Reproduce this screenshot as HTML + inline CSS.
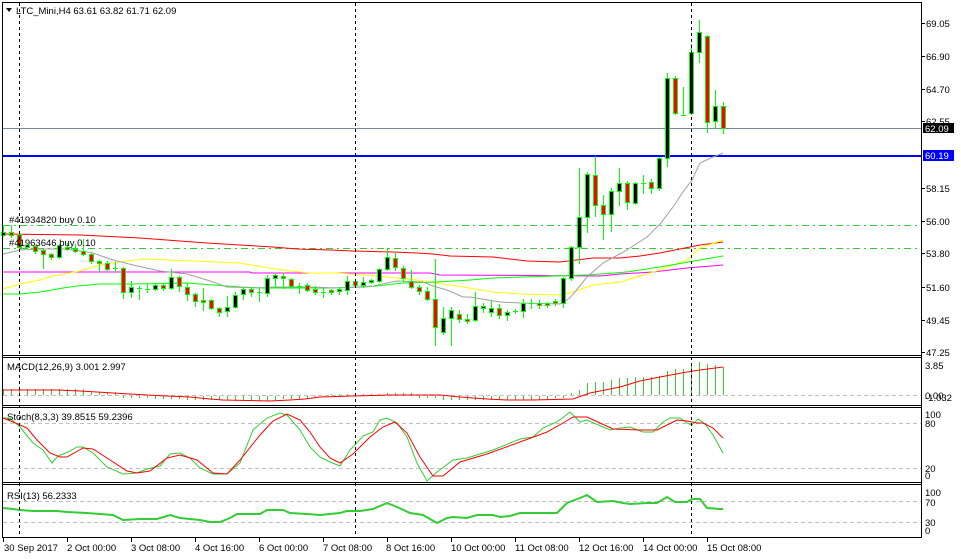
<!DOCTYPE html>
<html><head><meta charset="utf-8"><style>
html,body{margin:0;padding:0;background:#fff;}
svg{display:block;}
text{font-family:"Liberation Sans",sans-serif;font-size:9.5px;fill:#000;}
</style></head><body>
<svg width="961" height="559" viewBox="0 0 961 559" xmlns="http://www.w3.org/2000/svg">
<rect width="961" height="559" fill="#fff"/>

<!-- horizontal trade lines -->
<path d="M3 225.5H921M3 248.5H921" stroke="#32cd32" stroke-width="1" stroke-dasharray="7,4,2,4" fill="none"/>
<path d="M3 128.5H921" stroke="#778899" stroke-width="1"/>
<rect x="3" y="155" width="918" height="2" fill="#0000ff"/>

<!-- MAs -->
<g fill="none" stroke-width="1">
<polyline stroke="#ff0000" points="3,234 80,235 140,238 180,241 207,243 240,245 273,247 297,249 330,250 353,251 393,252 417,253 433,254 450,256 493,257 527,261 560,262 593,258 620,258 640,256 660,253 680,249 700,245 723,242"/>
<polyline stroke="#ff00ff" points="3,272 250,272 252,273 430,273 440,275 600,276 620,274 653,272 687,268 723,265"/>
<polyline stroke="#ffff00" points="3,289 20,284 40,280 53,276 80,271 100,265 127,261 143,259 193,261 240,263 263,267 290,271 310,273 337,273 377,276 397,278 417,280 437,283 463,287 493,292 520,294 560,295 570,293 593,285 620,282 660,270 687,260 700,248 723,240"/>
<polyline stroke="#00ff00" points="3,294 20,294 40,292 63,288 77,286 100,284 133,284 187,283 240,287 263,288 330,288 363,287 377,286 403,283 437,282 470,280 493,278 587,275 627,272 660,267 700,260 723,256"/>
<polyline stroke="#a0a0a0" points="3,254 20,250 40,249 67,249 93,253 113,260 133,265 160,271 187,274 207,280 227,287 257,288 273,287 310,287 337,288 357,287 373,286 387,283 397,281 423,282 433,286 447,290 463,297 470,297 500,302 520,303 560,304 570,298 587,277 603,263 627,250 647,237 660,224 673,207 683,192 692,180 700,163 713,157 723,153"/>
</g>

<!-- wicks -->
<path stroke="#00ff00" stroke-width="1" fill="none" d="M3.5 225V237M11.5 225V238M19.5 233V251M27.5 244V249M35.5 245V254M43.5 249V269M51.5 253V260M59.5 244V259M67.5 243V251M75.5 244V253M83.5 239V256M91.5 253V264M99.5 260V272M107.5 261V271M115.5 262V272M123.5 267V299M131.5 281V298M139.5 286V300M147.5 284V293M155.5 283V291M163.5 284V291M171.5 269V290M179.5 276V292M187.5 283V301M195.5 293V307M203.5 288V311M211.5 299V310M219.5 307V317M227.5 296V317M235.5 292V309M243.5 288V300M251.5 287V297M259.5 287V302M267.5 275V297M275.5 274V288M283.5 273V289M291.5 278V289M299.5 283V294M307.5 283V292M315.5 286V295M323.5 288V298M331.5 289V295M339.5 287V295M347.5 276V295M355.5 280V287M363.5 277V288M371.5 279V284M379.5 268V283M387.5 248V271M395.5 253V271M403.5 266V282M411.5 270V289M419.5 285V295M427.5 287V301M435.5 259V346M443.5 307V335M451.5 307V346M459.5 310V323M467.5 314V324M475.5 292V322M483.5 303V313M491.5 300V317M499.5 304V319M507.5 310V321M515.5 309V314M523.5 299V318M531.5 299V309M539.5 300V309M547.5 302V308M555.5 299V306M563.5 277V308M571.5 246V281M579.5 168V264M587.5 172V233M595.5 156V217M603.5 195V240M611.5 188V232M619.5 168V206M627.5 181V210M635.5 182V205M643.5 175V194M651.5 179V194M659.5 157V191M667.5 73V167M675.5 76V115M683.5 87V116M691.5 44V115M699.5 20V63M707.5 35V133M715.5 90V129M723.5 102V134"/>

<!-- bull bodies (black) -->
<g fill="#000" stroke="#00ff00" stroke-width="1">
<rect x="1.5" y="232.5" width="4" height="3"/>
<rect x="25.5" y="245.5" width="4" height="2"/>
<rect x="57.5" y="245.5" width="4" height="12"/>
<rect x="129.5" y="287.5" width="4" height="5"/>
<rect x="153.5" y="285.5" width="4" height="4"/>
<rect x="169.5" y="277.5" width="4" height="11"/>
<rect x="225.5" y="307.5" width="4" height="4"/>
<rect x="233.5" y="295.5" width="4" height="12"/>
<rect x="241.5" y="289.5" width="4" height="5"/>
<rect x="265.5" y="278.5" width="4" height="15"/>
<rect x="273.5" y="275.5" width="4" height="3"/>
<rect x="337.5" y="289.5" width="4" height="2"/>
<rect x="345.5" y="281.5" width="4" height="9"/>
<rect x="361.5" y="282.5" width="4" height="3"/>
<rect x="369.5" y="280.5" width="4" height="2"/>
<rect x="377.5" y="269.5" width="4" height="12"/>
<rect x="385.5" y="257.5" width="4" height="12"/>
<rect x="441.5" y="318.5" width="4" height="14"/>
<rect x="449.5" y="310.5" width="4" height="8"/>
<rect x="473.5" y="306.5" width="4" height="14"/>
<rect x="481.5" y="306.5" width="4" height="2"/>
<rect x="489.5" y="308.5" width="4" height="4"/>
<rect x="505.5" y="312.5" width="4" height="3"/>
<rect x="521.5" y="303.5" width="4" height="8"/>
<rect x="561.5" y="278.5" width="4" height="25"/>
<rect x="569.5" y="247.5" width="4" height="31"/>
<rect x="577.5" y="217.5" width="4" height="30"/>
<rect x="585.5" y="174.5" width="4" height="43"/>
<rect x="609.5" y="191.5" width="4" height="23"/>
<rect x="617.5" y="183.5" width="4" height="8"/>
<rect x="633.5" y="183.5" width="4" height="20"/>
<rect x="657.5" y="158.5" width="4" height="30"/>
<rect x="665.5" y="78.5" width="4" height="80"/>
<rect x="689.5" y="52.5" width="4" height="61"/>
<rect x="697.5" y="32.5" width="4" height="20"/>
<rect x="713.5" y="106.5" width="4" height="15"/>
</g>
<!-- bear bodies (red) -->
<g fill="#ff0000" stroke="#00ff00" stroke-width="1">
<rect x="9.5" y="232.5" width="4" height="3"/>
<rect x="17.5" y="234.5" width="4" height="13"/>
<rect x="33.5" y="246.5" width="4" height="5"/>
<rect x="41.5" y="250.5" width="4" height="4"/>
<rect x="49.5" y="254.5" width="4" height="3"/>
<rect x="65.5" y="247.5" width="4" height="2"/>
<rect x="73.5" y="249.5" width="4" height="2"/>
<rect x="81.5" y="251.5" width="4" height="3"/>
<rect x="89.5" y="254.5" width="4" height="7"/>
<rect x="97.5" y="261.5" width="4" height="2"/>
<rect x="105.5" y="263.5" width="4" height="6"/>
<rect x="121.5" y="268.5" width="4" height="24"/>
<rect x="161.5" y="285.5" width="4" height="3"/>
<rect x="177.5" y="277.5" width="4" height="9"/>
<rect x="185.5" y="287.5" width="4" height="7"/>
<rect x="193.5" y="294.5" width="4" height="7"/>
<rect x="201.5" y="300.5" width="4" height="2"/>
<rect x="209.5" y="300.5" width="4" height="8"/>
<rect x="217.5" y="308.5" width="4" height="4"/>
<rect x="249.5" y="289.5" width="4" height="3"/>
<rect x="281.5" y="276.5" width="4" height="2"/>
<rect x="289.5" y="279.5" width="4" height="7"/>
<rect x="305.5" y="285.5" width="4" height="5"/>
<rect x="313.5" y="289.5" width="4" height="3"/>
<rect x="329.5" y="290.5" width="4" height="2"/>
<rect x="353.5" y="281.5" width="4" height="4"/>
<rect x="393.5" y="258.5" width="4" height="9"/>
<rect x="401.5" y="268.5" width="4" height="10"/>
<rect x="409.5" y="281.5" width="4" height="6"/>
<rect x="417.5" y="287.5" width="4" height="4"/>
<rect x="425.5" y="291.5" width="4" height="8"/>
<rect x="433.5" y="299.5" width="4" height="28"/>
<rect x="457.5" y="314.5" width="4" height="5"/>
<rect x="465.5" y="319.5" width="4" height="2"/>
<rect x="497.5" y="308.5" width="4" height="7"/>
<rect x="537.5" y="303.5" width="4" height="2"/>
<rect x="545.5" y="303.5" width="4" height="2"/>
<rect x="553.5" y="301.5" width="4" height="2"/>
<rect x="593.5" y="175.5" width="4" height="30"/>
<rect x="601.5" y="205.5" width="4" height="9"/>
<rect x="625.5" y="183.5" width="4" height="19"/>
<rect x="649.5" y="182.5" width="4" height="6"/>
<rect x="673.5" y="78.5" width="4" height="35"/>
<rect x="705.5" y="36.5" width="4" height="86"/>
<rect x="721.5" y="106.5" width="4" height="22"/>
</g>
<!-- doji -->
<path stroke="#00ff00" stroke-width="1" fill="none" d="M113 268.5h5M137 288.5h5M145 289.5h5M257 292.5h5M297 286.5h5M321 292.5h5M513 311.5h5M529 303.5h5M641 183.5h5M681 115.5h5"/>

<!-- trade labels -->
<text x="9" y="223">#41934820 buy 0.10</text>
<text x="9" y="246">#41963646 buy 0.10</text>

<!-- title -->
<polygon points="6,8 12,8 9,12" fill="#000"/>
<text x="16" y="14">LTC_Mini,H4  63.61 63.82 61.71 62.09</text>

<!-- MACD panel -->
<path stroke="#c0c0c0" stroke-width="1" stroke-dasharray="4,3" d="M3 395.5H921M3 423.5H921M3 468.5H921M3 501.5H921M3 522.5H921" fill="none"/>
<path stroke="#32cd32" stroke-width="1" fill="none" d="M3.5 395V389M11.5 395V389M19.5 395V389M27.5 395V389M35.5 395V389M43.5 395V389M51.5 395V389M59.5 395V389M67.5 395V389M75.5 395V389M83.5 395V389M91.5 395V392M99.5 395V392M107.5 395V392M115.5 395V392M123.5 396V398M131.5 396V398M139.5 396V398M147.5 396V398M155.5 396V399M163.5 396V399M171.5 396V399M179.5 396V399M187.5 396V400M195.5 396V400M203.5 396V400M211.5 396V400M219.5 396V400M227.5 396V400M235.5 396V401M243.5 396V401M251.5 396V401M259.5 396V401M267.5 396V401M275.5 396V401M283.5 396V399M291.5 396V399M299.5 396V399M307.5 396V399M315.5 396V397M323.5 396V397M331.5 395V394M339.5 395V394M347.5 395V394M355.5 395V394M363.5 395V394M371.5 395V394M379.5 395V394M387.5 395V393M395.5 395V393M403.5 395V393M411.5 395V393M419.5 396V398M427.5 396V398M435.5 396V398M443.5 396V400M451.5 396V400M459.5 396V400M467.5 396V400M475.5 396V400M483.5 396V400M491.5 396V400M499.5 396V400M507.5 396V400M515.5 396V400M523.5 396V400M531.5 396V400M539.5 396V400M547.5 396V400M555.5 396V398M563.5 396V398M571.5 395V393M579.5 395V390M587.5 395V383M595.5 395V382M603.5 395V382M611.5 395V380M619.5 395V378M627.5 395V378M635.5 395V377M643.5 395V377M651.5 395V377M659.5 395V376M667.5 395V371M675.5 395V369M683.5 395V369M691.5 395V365M699.5 395V362M707.5 395V364M715.5 395V365M723.5 395V367"/>
<polyline fill="none" stroke="#ff0000" stroke-width="1" points="3,390 57,390 80,391 97,392 113,393 130,394 147,395 167,396 190,397 210,399 223,400 270,401 290,400 305,399 320,397 352,396 390,395 440,395 460,397 487,399 507,400 533,400 573,399 590,393 610,389 620,387 640,381 660,377 687,372 700,370 723,367"/>
<text x="7" y="370">MACD(12,26,9) 3.001 2.997</text>

<!-- Stoch -->
<polyline fill="none" stroke="#32cd32" stroke-width="1" points="3,418 10,418 20,427 33,443 43,450 52,463 58,456 68,452 77,447 83,447 93,453 107,467 123,474 137,473 147,469 160,466 170,454 180,453 190,458 200,468 213,474 227,474 240,463 253,430 267,418 280,413 287,415 300,430 310,447 320,457 330,462 340,466 350,450 363,436 373,432 380,420 387,418 397,423 407,437 417,463 427,481 437,472 453,460 467,458 493,450 520,439 533,437 543,428 557,422 570,412 580,422 587,420 610,430 620,428 630,427 643,432 653,432 663,422 670,418 680,418 687,423 692,425 698,419 705,424 713,435 723,453"/>
<polyline fill="none" stroke="#ff0000" stroke-width="1" points="3,418 13,422 27,428 37,440 50,453 60,457 67,457 83,448 93,449 107,458 127,471 137,473 150,471 167,458 180,455 197,460 213,473 227,474 240,460 260,435 273,421 287,414 300,420 310,432 320,447 330,458 340,463 353,454 370,437 383,427 395,422 407,433 420,457 433,476 443,476 460,462 487,454 520,442 547,432 563,423 573,417 587,417 600,423 613,429 640,430 657,430 667,425 677,420 687,421 697,423 703,423 713,428 723,438"/>
<text x="7" y="420">Stoch(8,3,3) 39.8515 59.2396</text>

<!-- RSI -->
<polyline fill="none" stroke="#32cd32" stroke-width="2" points="3,508 13,509 20,510 33,511 57,511 67,512 87,513 100,514 113,515 123,520 140,519 157,519 170,515 180,518 190,519 200,520 210,522 220,522 230,518 237,514 260,514 267,510 283,510 290,513 307,514 320,515 340,513 347,511 360,511 373,509 387,503 397,507 410,513 423,515 437,523 447,518 453,517 467,518 477,515 493,515 500,517 510,516 520,513 537,513 557,513 567,503 580,498 587,495 597,502 613,501 623,503 630,504 647,503 657,503 667,497 675,502 687,502 692,499 700,499 707,508 720,509 723,509"/>
<text x="7" y="499">RSI(13) 56.2333</text>

<!-- vertical dashed separators -->
<path stroke="#000" stroke-width="1" stroke-dasharray="3,3" d="M19.5 3V537M355.5 3V537M691.5 3V537" fill="none"/>

<!-- frame -->
<g stroke="#000" stroke-width="1" fill="none">
<path d="M2 2.5H921.5M2.5 2V538M921.5 2V538M2 355.5H922M2 357.5H922M2 405.5H922M2 407.5H922M2 482.5H922M2 484.5H922M2 537.5H922"/>
<path d="M922 23.5h3M922 56.5h3M922 89.5h3M922 121.5h3M922 188.5h3M922 221.5h3M922 253.5h3M922 287.5h3M922 320.5h3M922 352.5h3"/>
<path d="M3.5 538v4M67.5 538v4M131.5 538v4M195.5 538v4M259.5 538v4M323.5 538v4M387.5 538v4M451.5 538v4M515.5 538v4M579.5 538v4M643.5 538v4M707.5 538v4"/>
</g>

<!-- price labels -->
<text x="926" y="27">69.05</text>
<text x="926" y="60">66.90</text>
<text x="926" y="93">64.70</text>
<text x="926" y="125">62.55</text>
<text x="926" y="192">58.15</text>
<text x="926" y="225">56.00</text>
<text x="926" y="257">53.80</text>
<text x="926" y="291">51.60</text>
<text x="926" y="324">49.45</text>
<text x="926" y="356">47.25</text>
<rect x="923" y="123" width="31" height="10" fill="#000"/>
<text x="925" y="132" style="fill:#fff">62.09</text>
<rect x="923" y="150" width="31" height="11" fill="#0000ff"/>
<text x="925" y="159" style="fill:#fff">60.19</text>

<!-- indicator scale labels -->
<text x="925" y="369">3.85</text>
<text x="925" y="399">0.00</text>
<text x="925" y="401">-1.032</text>
<text x="925" y="418">100</text>
<text x="925" y="427">80</text>
<text x="925" y="472">20</text>
<text x="925" y="479">0</text>
<text x="925" y="496">100</text>
<text x="925" y="506">70</text>
<text x="925" y="526">30</text>
<text x="925" y="534">0</text>

<!-- time labels -->
<text x="4" y="551">30 Sep 2017</text>
<text x="67" y="551">2 Oct 00:00</text>
<text x="131" y="551">3 Oct 08:00</text>
<text x="195" y="551">4 Oct 16:00</text>
<text x="259" y="551">6 Oct 00:00</text>
<text x="323" y="551">7 Oct 08:00</text>
<text x="386" y="551">8 Oct 16:00</text>
<text x="451" y="551">10 Oct 00:00</text>
<text x="515" y="551">11 Oct 08:00</text>
<text x="579" y="551">12 Oct 16:00</text>
<text x="643" y="551">14 Oct 00:00</text>
<text x="707" y="551">15 Oct 08:00</text>
</svg>
</body></html>
